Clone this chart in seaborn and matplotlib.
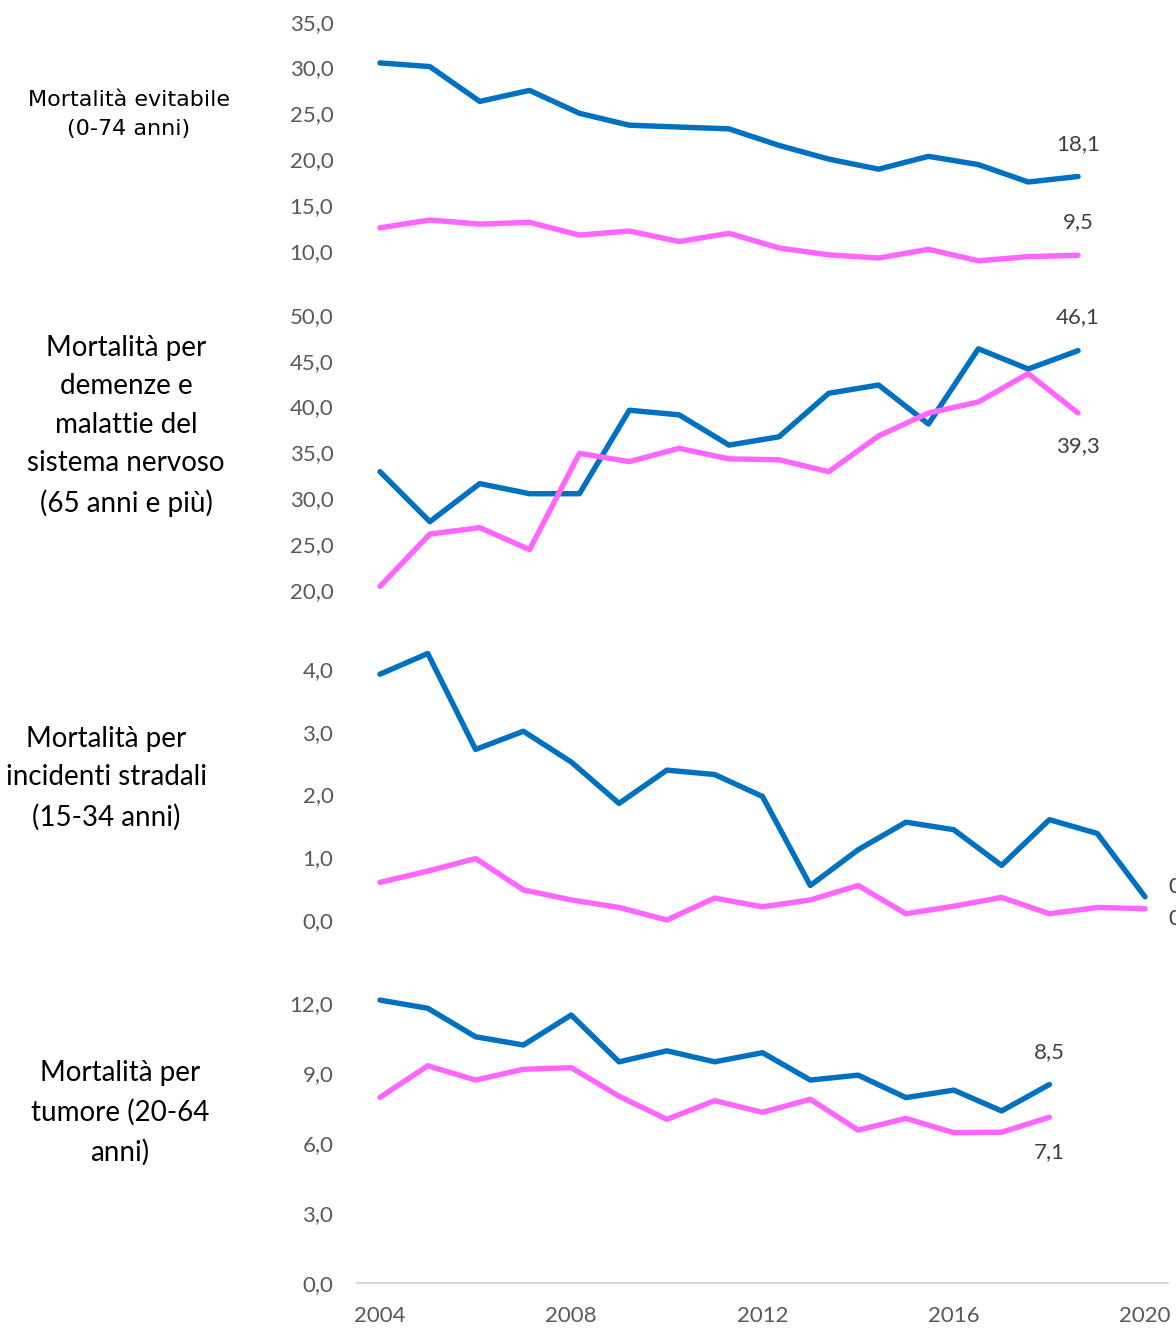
import matplotlib
matplotlib.use("Agg")
import matplotlib.pyplot as plt
import seaborn as sns
import pandas as pd

# ---------------- data ----------------
years_15 = list(range(2004, 2019))
years_17 = list(range(2004, 2021))

evit_m = [30.5, 30.1, 26.3, 27.5, 25.0, 23.7, 23.5, 23.3, 21.5, 20.0, 18.9, 20.3, 19.4, 17.5, 18.1]
evit_f = [12.5, 13.35, 12.9, 13.1, 11.7, 12.15, 11.0, 11.9, 10.3, 9.55, 9.2, 10.15, 8.9, 9.35, 9.5]

dem_m = [32.9, 27.45, 31.6, 30.5, 30.5, 39.6, 39.1, 35.8, 36.7, 41.45, 42.35, 38.1, 46.3, 44.1, 46.1]
dem_f = [20.4, 26.1, 26.8, 24.4, 34.9, 34.0, 35.45, 34.3, 34.2, 32.9, 36.8, 39.3, 40.5, 43.6, 39.3]

strad_m = [3.92, 4.25, 2.72, 3.01, 2.52, 1.86, 2.39, 2.32, 1.97, 0.55, 1.12, 1.56, 1.44, 0.87, 1.6, 1.38, 0.37]
strad_f = [0.6, 0.78, 0.98, 0.48, 0.32, 0.2, 0.0, 0.35, 0.21, 0.32, 0.55, 0.1, 0.22, 0.36, 0.1, 0.2, 0.18]

tum_m = [12.11, 11.76, 10.54, 10.19, 11.47, 9.47, 9.94, 9.47, 9.86, 8.69, 8.9, 7.94, 8.26, 7.37, 8.5]
tum_f = [7.95, 9.3, 8.69, 9.15, 9.22, 8.0, 7.01, 7.81, 7.31, 7.87, 6.55, 7.05, 6.44, 6.46, 7.1]

series_names = ["Maschi", "Femmine"]
panel_titles = [
    "Mortalità evitabile\n(0-74 anni)",
    "Mortalità per\ndemenze e\nmalattie del\nsistema nervoso\n(65 anni e più)",
    "Mortalità per\nincidenti stradali\n(15-34 anni)",
    "Mortalità per\ntumore (20-64\nanni)",
]
yticks_1 = [10, 15, 20, 25, 30, 35]
yticks_2 = [20, 25, 30, 35, 40, 45, 50]
yticks_3 = [0, 1, 2, 3, 4]
yticks_4 = [0, 3, 6, 9, 12]
xticks = [2004, 2008, 2012, 2016, 2020]
end_labels = [("18,1", "9,5"), ("46,1", "39,3"), ("0,4", "0,2"), ("8,5", "7,1")]

# ---------------- style ----------------
W, H = 1176, 1328
sns.set_theme(style="white")
plt.rcParams["font.family"] = ["Lato", "DejaVu Sans"]
palette = {"Maschi": "#0070C0", "Femmine": "#FF66FF"}
TICK_COLOR = "#595959"
LABEL_COLOR = "#404040"
TICK_SIZE = 16

fig = plt.figure(figsize=(W / 100, H / 100), dpi=100)

def add_axes_px(top, bottom, left=357, right=1168):
    return fig.add_axes([left / W, (H - bottom) / H, (right - left) / W, (bottom - top) / H])

def fmt(v):
    return f"{v:.1f}".replace(".", ",")

def make_df(years, m, f):
    return pd.DataFrame({
        "anno": years + years,
        "valore": m + f,
        "serie": [series_names[0]] * len(years) + [series_names[1]] * len(years),
    })

panels = [
    dict(df=make_df(years_15, evit_m, evit_f), box=(12.54, 259.86), ylim=(9, 36),
         xlim=(2003.539, 2019.804), yticks=yticks_1),
    dict(df=make_df(years_15, dem_m, dem_f), box=(305.7, 599.17), ylim=(19, 51),
         xlim=(2003.539, 2019.804), yticks=yticks_2),
    dict(df=make_df(years_17, strad_m, strad_f), box=(644.1, 929.4), ylim=(-0.15, 4.4),
         xlim=(2003.52, 2020.48), yticks=yticks_3),
    dict(df=make_df(years_15, tum_m, tum_f), box=(993.3, 1283.3), ylim=(0, 12.4),
         xlim=(2003.52, 2020.48), yticks=yticks_4),
]

label_offsets = [((0, 32), (0, 33)), ((0, 34), (0, -33)), ((23, 11), (23, -9)), ((0, 32), (0, -35))]

for i, p in enumerate(panels):
    ax = add_axes_px(*p["box"])
    sns.lineplot(data=p["df"], x="anno", y="valore", hue="serie", palette=palette,
                 hue_order=series_names, legend=False, ax=ax, linewidth=3.9,
                 solid_joinstyle="round", solid_capstyle="round", clip_on=False)
    ax.set_xlim(*p["xlim"])
    ax.set_ylim(*p["ylim"])
    ax.set_yticks(p["yticks"])
    ax.set_yticklabels([fmt(v) for v in p["yticks"]])
    ax.tick_params(axis="y", length=0, pad=17, labelsize=TICK_SIZE, labelcolor=TICK_COLOR)
    for lbl in ax.get_yticklabels():
        lbl.set_y(lbl.get_position()[1])
    ax.set_xlabel("")
    ax.set_ylabel("")
    for s in ["top", "right", "left"]:
        ax.spines[s].set_visible(False)
    if i == 3:
        ax.spines["bottom"].set_color("#D9D9D9")
        ax.spines["bottom"].set_linewidth(1.5)
        ax.set_xticks(xticks)
        ax.set_xticklabels([str(x) for x in xticks])
        ax.tick_params(axis="x", length=0, pad=16, labelsize=TICK_SIZE, labelcolor=TICK_COLOR)
    else:
        ax.spines["bottom"].set_visible(False)
        ax.set_xticks([])
    ax.set_facecolor("none")

    # end-of-series value labels
    df = p["df"]
    for j, name in enumerate(series_names):
        sub = df[df["serie"] == name]
        xe, ye = sub["anno"].iloc[-1], sub["valore"].iloc[-1]
        dx, dy = label_offsets[i][j]
        ha = "left" if dx > 0 else "center"
        ax.annotate(end_labels[i][j], xy=(xe, ye), xytext=(dx, dy),
                    textcoords="offset pixels", ha=ha, va="center",
                    fontsize=TICK_SIZE, color=LABEL_COLOR, annotation_clip=False)

# left titles
title_pos = [(129, 114.5), (126, 426), (106, 778), (120, 1113)]
for k, (t, (x, y)) in enumerate(zip(panel_titles, title_pos)):
    if k == 0:
        fig.text(x / W, 1 - y / H, t, ha="center", va="center", fontsize=16,
                 family=["DejaVu Sans"], color="#000000", linespacing=1.55)
    else:
        fig.text(x / W, 1 - y / H, t, ha="center", va="center", fontsize=20,
                 color="#000000", linespacing=1.6)

fig.savefig("out.png", dpi=100, facecolor="white")
